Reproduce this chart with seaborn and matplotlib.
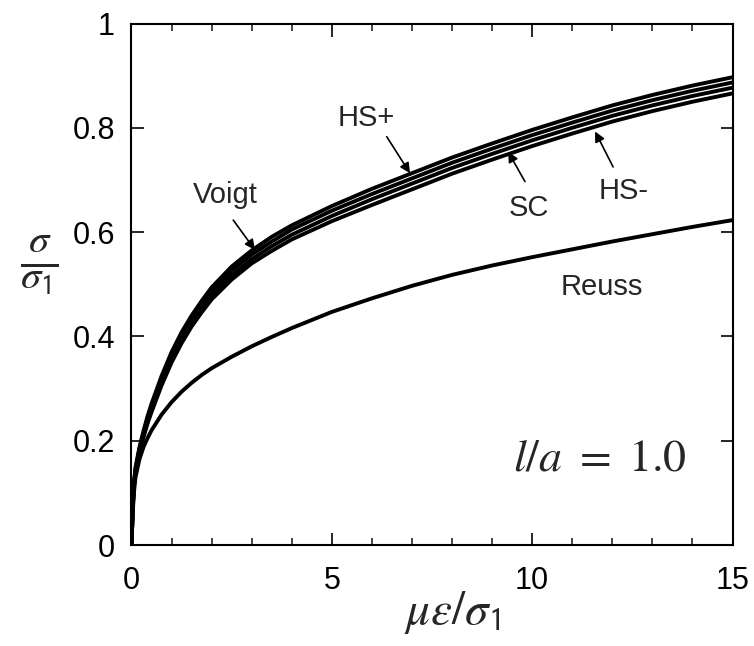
import matplotlib
matplotlib.use("Agg")
import matplotlib.pyplot as plt
import seaborn as sns
import pandas as pd

# ---- data ----
strain = [0, 0.03, 0.06, 0.1, 0.2, 0.3, 0.4, 0.5, 0.75, 1, 1.25, 1.5, 1.75,
          2, 2.5, 3, 3.5, 4, 5, 6, 7, 8, 9, 10, 11, 12, 13, 14, 15]
voigt = [0, 0.072, 0.118, 0.149, 0.188, 0.219, 0.247, 0.271, 0.324, 0.37,
         0.408, 0.44, 0.468, 0.494, 0.534, 0.565, 0.591, 0.613, 0.65, 0.683,
         0.713, 0.743, 0.77, 0.796, 0.82, 0.843, 0.863, 0.881, 0.897]
hs_plus = [0, 0.071, 0.116, 0.146, 0.185, 0.215, 0.242, 0.266, 0.318, 0.363,
           0.401, 0.433, 0.462, 0.487, 0.526, 0.557, 0.582, 0.605, 0.641,
           0.673, 0.703, 0.733, 0.76, 0.786, 0.81, 0.833, 0.853, 0.871, 0.887]
sc = [0, 0.069, 0.114, 0.143, 0.181, 0.21, 0.237, 0.26, 0.311, 0.356, 0.394,
      0.426, 0.453, 0.478, 0.517, 0.548, 0.573, 0.595, 0.631, 0.663, 0.693,
      0.723, 0.75, 0.776, 0.8, 0.823, 0.843, 0.861, 0.877]
hs_minus = [0, 0.068, 0.112, 0.141, 0.178, 0.207, 0.233, 0.255, 0.306, 0.35,
            0.387, 0.419, 0.446, 0.471, 0.509, 0.54, 0.564, 0.586, 0.621,
            0.652, 0.682, 0.712, 0.739, 0.765, 0.789, 0.812, 0.832, 0.85,
            0.866]
reuss = [0, 0.06, 0.10, 0.13, 0.165, 0.188, 0.205, 0.22, 0.25, 0.274, 0.294,
         0.311, 0.326, 0.339, 0.361, 0.381, 0.399, 0.416, 0.447, 0.473, 0.497,
         0.518, 0.536, 0.552, 0.567, 0.582, 0.596, 0.61, 0.623]

series_names = ["Voigt", "HS+", "SC", "HS-", "Reuss"]
series_values = [voigt, hs_plus, sc, hs_minus, reuss]

x_ticks = [0, 5, 10, 15]
x_tick_labels = ["0", "5", "10", "15"]
y_ticks = [0, 0.2, 0.4, 0.6, 0.8, 1.0]
y_tick_labels = ["0", "0.2", "0.4", "0.6", "0.8", "1"]

# ---- style ----
sns.set_style("ticks")
plt.rcParams["font.family"] = ["Liberation Sans", "DejaVu Sans"]
plt.rcParams["mathtext.fontset"] = "stix"

fig = plt.figure(figsize=(7.54, 6.46), dpi=100)
ax = fig.add_axes([0.1744, 0.1563, 0.9715 - 0.1744, 0.9636 - 0.1563])

rows = []
for name, vals in zip(series_names, series_values):
    for xv, yv in zip(strain, vals):
        rows.append({"strain": xv, "stress": yv, "model": name})
df = pd.DataFrame(rows)

for name in series_names:
    sub = df[df["model"] == name]
    sns.lineplot(data=sub, x="strain", y="stress", ax=ax, color="black",
                 lw=2.8, sort=False, estimator=None)

ax.set_xlim(0, 15)
ax.set_ylim(0, 1)
ax.set_xticks(x_ticks)
ax.set_xticklabels(x_tick_labels)
ax.set_yticks(y_ticks)
ax.set_yticklabels(y_tick_labels)
ax.set_xticks(range(0, 16), minor=True)

for s in ax.spines.values():
    s.set_visible(True)
    s.set_linewidth(1.5)
    s.set_color("black")

ax.tick_params(which="major", direction="in", length=9, width=1.2,
               top=True, right=True, labelsize=22, colors="black")
ax.tick_params(axis="x", which="major", pad=15)
ax.tick_params(axis="y", which="major", pad=12)
ax.tick_params(which="minor", direction="in", length=5, width=1.2,
               top=True, right=False, left=False)

ax.set_xlabel("")
ax.set_ylabel("")

fig.text(0.6, 0.052, r"$\mu\varepsilon/\sigma_{\mathsf{1}}$", fontsize=34,
         ha="center", va="center")
fig.text(0.052, 0.59, r"$\frac{\sigma}{\sigma_{\mathsf{1}}}$", fontsize=42,
         ha="center", va="center")

# annotations
arrow = dict(arrowstyle="-|>", color="black", lw=1.2, mutation_scale=15,
             shrinkA=0, shrinkB=0)
fs = 21
ax.text(2.35, 0.671, "Voigt", fontsize=fs, ha="center", va="center")
ax.annotate("", xy=(3.08, 0.566), xytext=(2.54, 0.623), arrowprops=arrow)
ax.text(5.87, 0.819, "HS+", fontsize=fs, ha="center", va="center")
ax.annotate("", xy=(6.95, 0.713), xytext=(6.37, 0.783), arrowprops=arrow)
ax.text(9.92, 0.646, "SC", fontsize=fs, ha="center", va="center")
ax.annotate("", xy=(9.4, 0.754), xytext=(9.82, 0.697), arrowprops=arrow)
ax.text(12.27, 0.679, "HS-", fontsize=fs, ha="center", va="center")
ax.annotate("", xy=(11.57, 0.793), xytext=(12.02, 0.725), arrowprops=arrow)
ax.text(11.73, 0.495, "Reuss", fontsize=fs, ha="center", va="center")

ax.text(11.69, 0.165, r"$l/a\ =\ \mathrm{1.0}$", fontsize=33,
        ha="center", va="center")

fig.savefig("out.png", dpi=100)
